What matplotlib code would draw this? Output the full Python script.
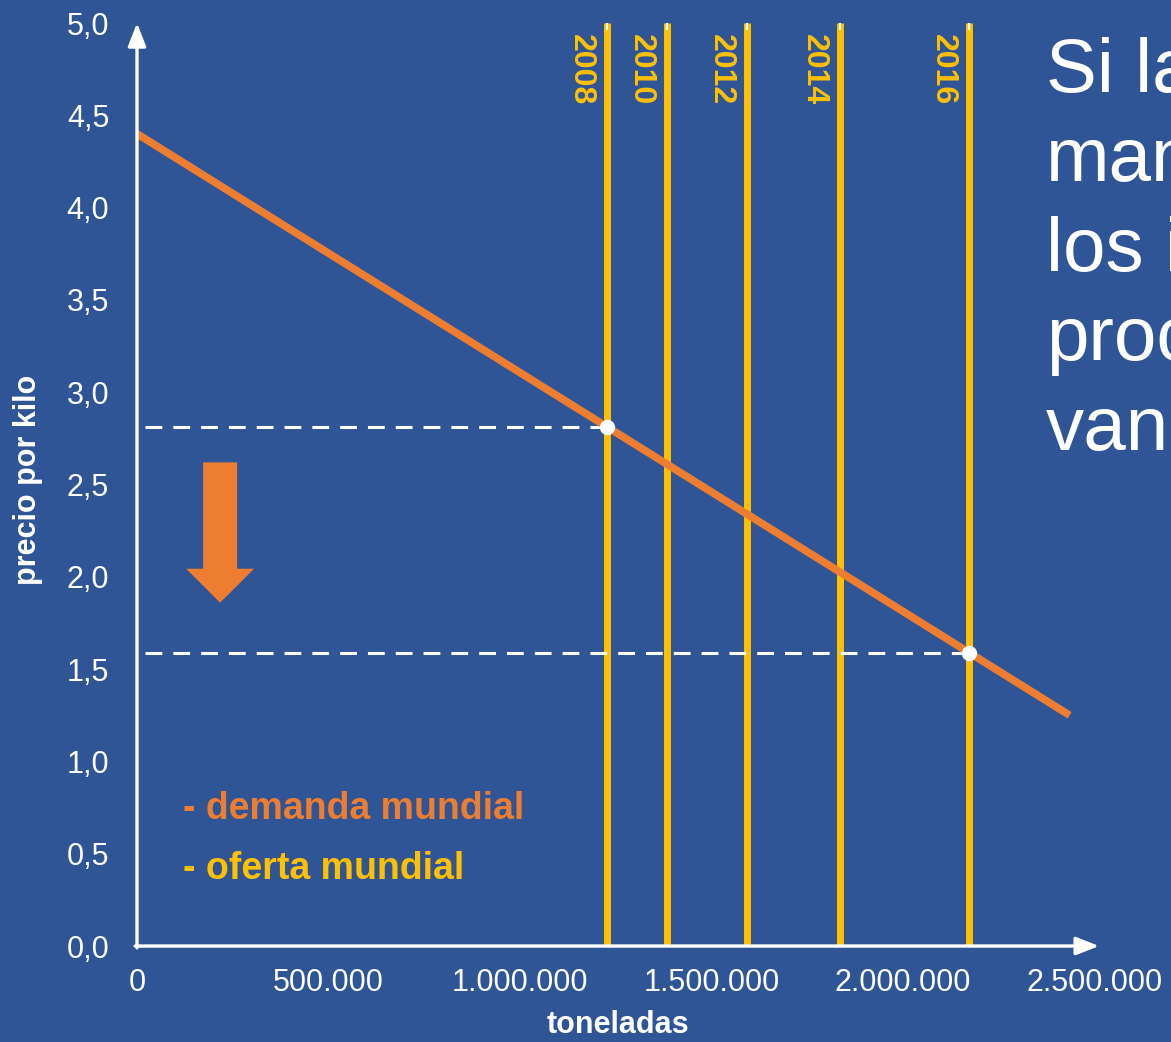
import matplotlib
matplotlib.use("Agg")
import matplotlib.pyplot as plt

plt.rcParams['font.family'] = ['Liberation Sans', 'DejaVu Sans']

bg = '#2f5597'
orange = '#ed7d31'
yellow = '#ffc000'

# demanda mundial (linea recta)
demand_x = [0, 2435000]
demand_y = [4.40, 1.25]

# oferta mundial por año (toneladas)
years = ['2008', '2010', '2012', '2014', '2016']
supply = [1228000, 1384000, 1593000, 1836000, 2171000]

# puntos de equilibrio
eq_x = [1228000, 2171000]
eq_y = [2.81, 1.59]

xticks = [0, 500000, 1000000, 1500000, 2000000, 2500000]
xticklabels = ['0', '500.000', '1.000.000', '1.500.000', '2.000.000', '2.500.000']
yticks = [0, 0.5, 1.0, 1.5, 2.0, 2.5, 3.0, 3.5, 4.0, 4.5, 5.0]
yticklabels = ['0,0', '0,5', '1,0', '1,5', '2,0', '2,5', '3,0', '3,5', '4,0', '4,5', '5,0']

side_text = ['Si la', 'man', 'los i', 'proc', 'van']

fig = plt.figure(figsize=(11.71, 10.42), dpi=100, facecolor=bg)
ax = fig.add_axes([0.117, 0.0921, 0.8504, 0.9035])
ax.set_facecolor(bg)
ax.set_xlim(0, 2600000)
ax.set_ylim(0, 5.1)
for s in ax.spines.values():
    s.set_visible(False)

ax.set_xticks(xticks)
ax.set_xticklabels(xticklabels)
ax.set_yticks(yticks)
ax.set_yticklabels(yticklabels)
ax.tick_params(axis='x', length=0, pad=16, labelsize=22, labelcolor='white')
ax.tick_params(axis='y', length=0, pad=20, labelsize=22, labelcolor='white')

# oferta: lineas verticales
for yr, sx in zip(years, supply):
    ax.plot([sx, sx], [0, 5.0], color=yellow, lw=5, solid_capstyle='butt', zorder=2)
    ax.plot([sx, sx], [4.965, 5.0], color='white', lw=1.5, solid_capstyle='butt', zorder=3)
    ax.annotate(yr, xy=(sx, 5.0), xytext=(-8, -8), textcoords='offset points',
                rotation=-90, ha='right', va='top', color=yellow,
                fontsize=23, fontweight='bold')

# lineas discontinuas hacia el eje y
for ex, ey in zip(eq_x, eq_y):
    ax.plot([20000, ex], [ey, ey], color='white', lw=2.2, dashes=(5.5, 3.6), zorder=3)

# demanda
ax.plot(demand_x, demand_y, color=orange, lw=5.5, solid_capstyle='butt', zorder=4)
ax.plot(eq_x, eq_y, 'o', color='white', markersize=10, zorder=5)

# ejes con flechas
arrow_style = '-|>,head_length=1.4,head_width=0.55'
ax.annotate('', xy=(0, 5.0), xytext=(0, -0.01),
            arrowprops=dict(arrowstyle=arrow_style, color='white', lw=2.4,
                            shrinkA=0, shrinkB=0), zorder=6)
ax.annotate('', xy=(2512000, 0), xytext=(-5000, 0),
            arrowprops=dict(arrowstyle=arrow_style, color='white', lw=2.4,
                            shrinkA=0, shrinkB=0), zorder=6)

# flecha naranja hacia abajo
ax.arrow(217000, 2.62, 0, -0.76, width=88800, head_width=177500, head_length=0.184,
         length_includes_head=True, color=orange, lw=0, zorder=4)

ax.text(120000, 0.74, '- demanda mundial', color=orange, fontsize=27,
        fontweight='bold', va='center', ha='left')
ax.text(120000, 0.42, '- oferta mundial', color=yellow, fontsize=27,
        fontweight='bold', va='center', ha='left')

fig.text(618 / 1171, 1 - 1025 / 1042, 'toneladas', color='white', fontsize=22,
         fontweight='bold', ha='center', va='center')
fig.text(28 / 1171, 1 - 480 / 1042, 'precio por kilo', color='white', fontsize=22,
         fontweight='bold', rotation=90, ha='center', va='center')

for i, line in enumerate(side_text):
    fig.text(1046 / 1171, 1 - (92 + i * 89.5) / 1042, line, color='white',
             fontsize=55, ha='left', va='baseline')

fig.savefig('out.png', dpi=100, facecolor=bg)
